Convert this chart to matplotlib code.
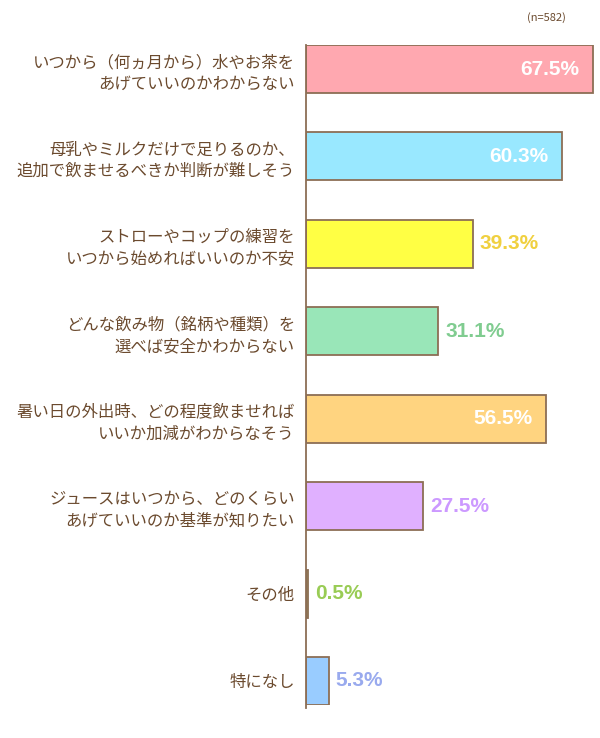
import matplotlib
matplotlib.use("Agg")
import matplotlib.pyplot as plt

plt.rcParams['font.family'] = ['Noto Sans CJK JP', 'DejaVu Sans']

categories = [
    "いつから（何ヵ月から）水やお茶を\nあげていいのかわからない",
    "母乳やミルクだけで足りるのか、\n追加で飲ませるべきか判断が難しそう",
    "ストローやコップの練習を\nいつから始めればいいのか不安",
    "どんな飲み物（銘柄や種類）を\n選べば安全かわからない",
    "暑い日の外出時、どの程度飲ませれば\nいいか加減がわからなそう",
    "ジュースはいつから、どのくらい\nあげていいのか基準が知りたい",
    "その他",
    "特になし",
]
values = [67.5, 60.3, 39.3, 31.1, 56.5, 27.5, 0.5, 5.3]
bar_colors = ["#FFA8B0", "#99E8FF", "#FFFF44", "#99E6B8", "#FFD480", "#E0B0FF", "#A8CC55", "#99CCFF"]
label_colors = ["white", "white", "#F0D040", "#80CC90", "white", "#CC99FF", "#99CC55", "#99AAEE"]
inside = [True, True, False, False, True, False, False, False]
n_text = "(n=582)"

brown = "#6B4A2E"
edge = "#8C6E55"

fig = plt.figure(figsize=(6.0, 7.38), dpi=100)
W, H = 600, 738
left_px, top_px, bottom_px = 306, 45, 705
ax = fig.add_axes([left_px / W, 1 - bottom_px / H, 1 - left_px / W, (bottom_px - top_px) / H])

ypos = list(range(len(values)))
bh = 0.55
ax.barh(ypos, values, height=bh, color=bar_colors, edgecolor=edge, linewidth=1.3)
ax.set_ylim(len(values) - 1 + bh / 2, -bh / 2)
ax.set_xlim(0, (W - left_px) / 4.25)

num_font = ["Liberation Sans", "DejaVu Sans"]
for y, v, lc, ins in zip(ypos, values, label_colors, inside):
    txt = f"{v}%"
    if ins:
        ax.annotate(txt, (v, y), xytext=(-10, 0), textcoords="offset points",
                    ha="right", va="center", color=lc, fontsize=15, fontweight="bold",
                    family=num_font)
    else:
        ax.annotate(txt, (v, y), xytext=(5, 0), textcoords="offset points",
                    ha="left", va="center", color=lc, fontsize=15, fontweight="bold",
                    family=num_font)

ax.set_yticks(ypos)
ax.set_yticklabels(categories, fontsize=11.8, color=brown, linespacing=1.35)
ax.tick_params(axis="y", length=0, pad=8)
ax.set_xticks([])
for s in ["top", "right", "bottom"]:
    ax.spines[s].set_visible(False)
ax.spines["left"].set_color(edge)
ax.spines["left"].set_linewidth(1.3)
ax.spines["left"].set_bounds(len(values) - 1 + bh / 2 + 0.03, -bh / 2)

fig.text(566 / W, 1 - 18 / H, n_text, ha="right", va="center", fontsize=8, color=brown)

fig.savefig("out.png", dpi=100, facecolor="white")
